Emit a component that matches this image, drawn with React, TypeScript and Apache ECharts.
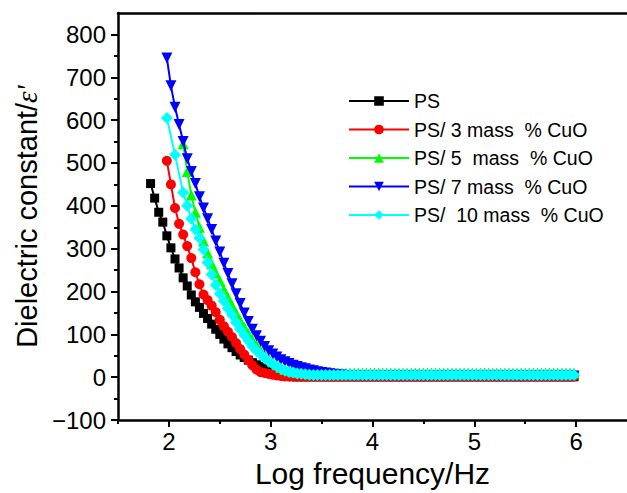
import React, { useEffect, useRef } from 'react';
import * as echarts from 'echarts';

// Log frequency grid (x values, log10 Hz)
const LOG_FREQ = [
  1.82, 1.86, 1.90, 1.94, 1.98, 2.02, 2.06, 2.10, 2.14, 2.18,
  2.22, 2.26, 2.30, 2.34, 2.38, 2.42, 2.46, 2.50, 2.54, 2.58,
  2.62, 2.66, 2.70, 2.74, 2.78, 2.82, 2.86, 2.90, 2.94, 2.98,
  3.02, 3.06, 3.10, 3.14, 3.18, 3.22, 3.26, 3.30, 3.34, 3.38,
  3.42, 3.46, 3.50, 3.54, 3.58, 3.62, 3.66, 3.70, 3.74, 3.78,
  3.82, 3.86, 3.90, 3.94, 3.98, 4.02, 4.06, 4.10, 4.14, 4.18,
  4.22, 4.26, 4.30, 4.34, 4.38, 4.42, 4.46, 4.50, 4.54, 4.58,
  4.62, 4.66, 4.70, 4.74, 4.78, 4.82, 4.86, 4.90, 4.94, 4.98,
  5.02, 5.06, 5.10, 5.14, 5.18, 5.22, 5.26, 5.30, 5.34, 5.38,
  5.42, 5.46, 5.50, 5.54, 5.58, 5.62, 5.66, 5.70, 5.74, 5.78,
  5.82, 5.86, 5.90, 5.94, 5.98,
];

const PS = [
  452, 418, 385, 362, 330, 302, 276, 255, 232, 213,
  192, 176, 163, 149, 137, 124, 112, 100, 89, 78,
  69, 60, 52, 46, 40, 34, 29, 25, 20, 15,
  11, 7, 5, 3, 2, 1, 1, 1, 1, 1,
  1, 1, 1, 1, 1, 1, 1, 1, 1, 1,
  1, 1, 1, 1, 1, 1, 1, 1, 1, 1,
  1, 1, 1, 1, 1, 1, 1, 1, 1, 1,
  1, 1, 1, 1, 1, 1, 1, 1, 1, 1,
  1, 1, 1, 1, 1, 1, 1, 1, 1, 1,
  1, 1, 1, 1, 1, 1, 1, 1, 1, 1,
  1, 1, 1, 1, 1,
];

const CUO_3 = [
  null, null, null, null, 505, 450, 395, 358, 333, 306,
  278, 245, 217, 193, 180, 167, 152, 134, 119, 106,
  94, 80, 66, 53, 40, 28, 18, 12, 10, 8,
  6, 4, 3, 2, 2, 2, 2, 2, 2, 2,
  2, 2, 2, 2, 2, 2, 2, 2, 2, 2,
  2, 2, 2, 2, 2, 2, 2, 2, 2, 2,
  2, 2, 2, 2, 2, 2, 2, 2, 2, 2,
  2, 2, 2, 2, 2, 2, 2, 2, 2, 2,
  2, 2, 2, 2, 2, 2, 2, 2, 2, 2,
  2, 2, 2, 2, 2, 2, 2, 2, 2, 2,
  2, 2, 2, 2, 2,
];

const CUO_5 = [
  null, null, null, null, null, null, null, null, 545, 480,
  425, 385, 350, 318, 290, 265, 243, 225, 205, 186,
  168, 150, 133, 117, 102, 88, 75, 63, 53, 44,
  36, 29, 23, 18, 15, 13, 12, 11, 10, 10,
  10, 10, 10, 10, 10, 10, 10, 10, 10, 10,
  10, 10, 10, 10, 10, 10, 10, 10, 10, 10,
  10, 10, 10, 10, 10, 10, 10, 10, 10, 10,
  10, 10, 10, 10, 10, 10, 10, 10, 10, 10,
  10, 10, 10, 10, 10, 10, 10, 10, 10, 10,
  10, 10, 10, 10, 10, 10, 10, 10, 10, 10,
  10, 10, 10, 10, 10,
];

const CUO_7 = [
  null, null, null, null, 745, 680, 630, 590, 550, 510,
  480, 452, 421, 395, 370, 345, 318, 292, 266, 242,
  218, 195, 172, 150, 130, 112, 97, 84, 72, 62,
  54, 47, 41, 36, 32, 28, 25, 22, 20, 17,
  15, 13, 11, 10, 8, 7, 6, 5, 4, 3,
  3, 3, 3, 3, 3, 3, 3, 3, 3, 3,
  3, 3, 3, 3, 3, 3, 3, 3, 3, 3,
  3, 3, 3, 3, 3, 3, 3, 3, 3, 3,
  3, 3, 3, 3, 3, 3, 3, 3, 3, 3,
  3, 3, 3, 3, 3, 3, 3, 3, 3, 3,
  3, 3, 3, 3, 3,
];

const CUO_10 = [
  null, null, null, null, 605, null, 519, null, 431, 400,
  370, 345, 325, 298, 268, 240, 215, 195, 178, 160,
  145, 128, 112, 98, 85, 72, 62, 53, 45, 37,
  31, 25, 20, 16, 13, 11, 9, 8, 7, 6,
  5, 5, 5, 5, 5, 5, 5, 5, 5, 5,
  5, 5, 5, 5, 5, 5, 5, 5, 5, 5,
  5, 5, 5, 5, 5, 5, 5, 5, 5, 5,
  5, 5, 5, 5, 5, 5, 5, 5, 5, 5,
  5, 5, 5, 5, 5, 5, 5, 5, 5, 5,
  5, 5, 5, 5, 5, 5, 5, 5, 5, 5,
  5, 5, 5, 5, 5,
];

const SERIES_NAMES = [
  'PS',
  'PS/ 3 mass  % CuO',
  'PS/ 5  mass  % CuO',
  'PS/ 7 mass  % CuO',
  'PS/  10 mass  % CuO',
];
const SERIES_VALUES = [PS, CUO_3, CUO_5, CUO_7, CUO_10];
const COLORS = ['#000000', '#ff0000', '#00ff00', '#0000ff', '#00ffff'];
const SYMBOLS = ['rect', 'circle', 'triangle', 'path://M0,0L10,0L5,10Z', 'diamond'];
const SYMBOL_SIZES = [9, 10, 11, 11, 12];

const X_MAJOR = [2, 3, 4, 5, 6];
const X_MINOR = [1.5, 2.5, 3.5, 4.5, 5.5];
const Y_MAJOR = [-100, 0, 100, 200, 300, 400, 500, 600, 700, 800];
const Y_MINOR = [-50, 50, 150, 250, 350, 450, 550, 650, 750];

const FONT = '"Liberation Sans", Arial, Helvetica, sans-serif';

export default function App() {
  const ref = useRef<HTMLDivElement>(null);
  useEffect(() => {
    const chart = echarts.init(ref.current!, null, { renderer: 'svg' });
    const axisColor = '#000';
    const fmt = (v: number) => (v < 0 ? '\u2212' + Math.abs(v) : String(v));
    chart.setOption({
      animation: false,
      backgroundColor: '#ffffff',
      textStyle: { fontFamily: FONT },
      grid: { left: 118, right: 0, top: 13, bottom: 65 },
      legend: {
        orient: 'vertical',
        left: 348,
        top: 91,
        padding: 0,
        itemWidth: 60,
        itemHeight: 12,
        itemGap: 8.5,
        textStyle: { fontSize: 19.5, color: '#000', fontFamily: FONT },
        data: SERIES_NAMES,
      },
      xAxis: [
        {
          type: 'value',
          min: 1.5,
          max: 6.5,
          position: 'bottom',
          axisLine: { show: true, onZero: false, lineStyle: { color: axisColor, width: 2.5 } },
          axisTick: { show: true, customValues: X_MAJOR, length: 7, lineStyle: { color: axisColor, width: 2 } },
          axisLabel: { customValues: X_MAJOR, fontSize: 24, color: '#000', margin: 9, fontFamily: FONT },
          splitLine: { show: false },
          name: 'Log frequency/Hz',
          nameLocation: 'middle',
          nameGap: 35,
          nameTextStyle: { fontSize: 30, color: '#000', fontFamily: FONT },
        },
        {
          type: 'value',
          min: 1.5,
          max: 6.5,
          position: 'bottom',
          axisLine: { show: false, onZero: false },
          axisTick: { show: true, customValues: X_MINOR, length: 4, lineStyle: { color: axisColor, width: 2 } },
          axisLabel: { show: false },
          splitLine: { show: false },
        },
        {
          type: 'value',
          min: 1.5,
          max: 6.5,
          position: 'top',
          axisLine: { show: true, onZero: false, lineStyle: { color: axisColor, width: 2.5 } },
          axisTick: { show: false },
          axisLabel: { show: false },
          splitLine: { show: false },
        },
      ],
      yAxis: [
        {
          type: 'value',
          min: -100,
          max: 850,
          position: 'left',
          axisLine: { show: true, onZero: false, lineStyle: { color: axisColor, width: 2.5 } },
          axisTick: { show: true, customValues: Y_MAJOR, length: 7, lineStyle: { color: axisColor, width: 2 } },
          axisLabel: { customValues: Y_MAJOR, fontSize: 24, color: '#000', margin: 12, fontFamily: FONT, formatter: fmt },
          splitLine: { show: false },
          name: "Dielectric constant/{e|\u03B5'}",
          nameLocation: 'middle',
          nameGap: 76,
          nameTextStyle: {
            fontSize: 29,
            color: '#000',
            fontFamily: FONT,
            rich: { e: { fontSize: 29, fontFamily: '"Liberation Serif", serif', fontStyle: 'italic', color: '#000' } },
          },
        },
        {
          type: 'value',
          min: -100,
          max: 850,
          position: 'left',
          axisLine: { show: false, onZero: false },
          axisTick: { show: true, customValues: Y_MINOR, length: 4, lineStyle: { color: axisColor, width: 2 } },
          axisLabel: { show: false },
          splitLine: { show: false },
        },
      ],
      series: SERIES_NAMES.map((name, i) => ({
        name,
        type: 'line',
        xAxisIndex: 0,
        yAxisIndex: 0,
        data: LOG_FREQ.map((x, j) => [x, SERIES_VALUES[i][j]]).filter((p) => p[1] !== null),
        symbol: SYMBOLS[i],
        symbolSize: SYMBOL_SIZES[i],
        showAllSymbol: true,
        connectNulls: true,
        itemStyle: { color: COLORS[i] },
        lineStyle: { color: COLORS[i], width: 2 },
        z: 2 + i,
      })),
    });
    return () => chart.dispose();
  }, []);
  return <div ref={ref} style={{ position: 'absolute', left: 0, top: 0, width: 627, height: 493 }} />;
}
